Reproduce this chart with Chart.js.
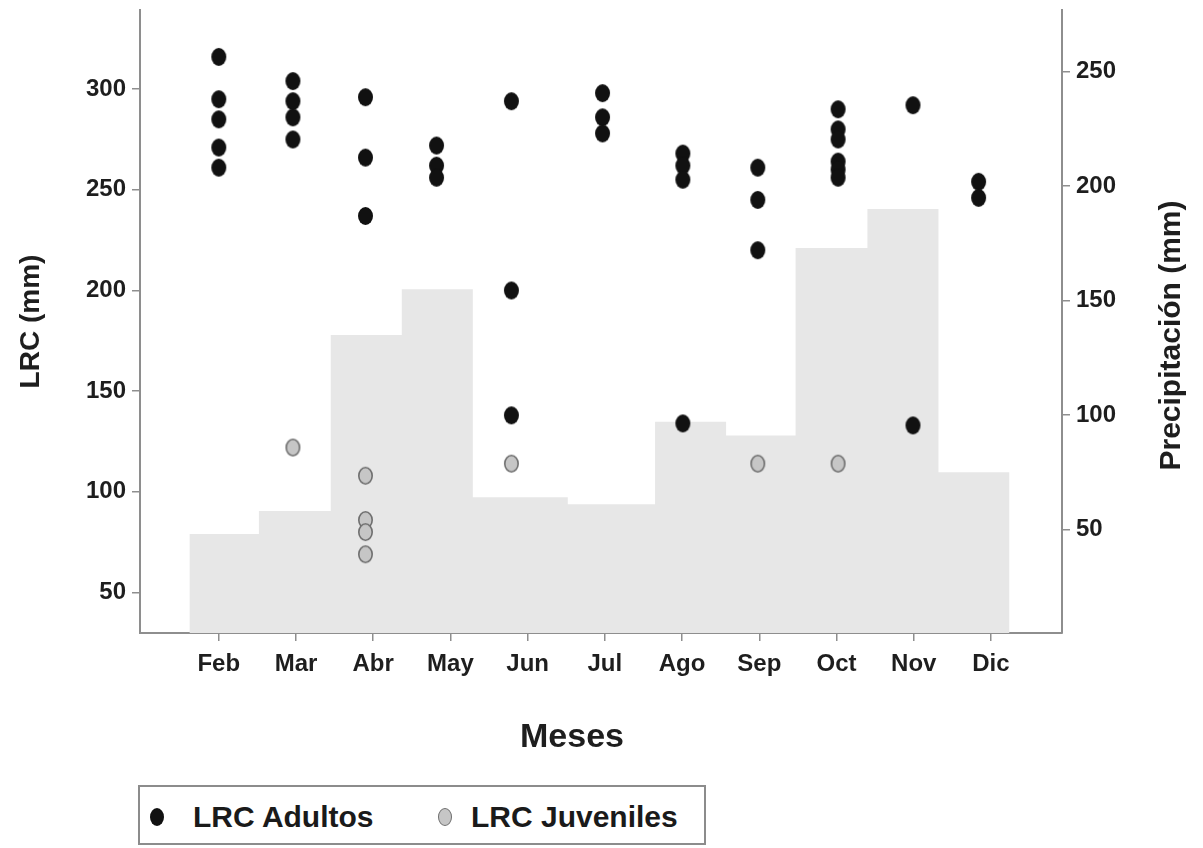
<!DOCTYPE html>
<html>
<head>
<meta charset="utf-8">
<title>LRC y precipitación mensual</title>
<script src="https://cdn.jsdelivr.net/npm/chart.js@4.4.1/dist/chart.umd.min.js"></script>
<style>
  html, body { margin: 0; padding: 0; background: #ffffff; }
  #wrap { position: relative; width: 1203px; height: 848px; overflow: hidden; }
  #grafico { position: absolute; left: 0; top: 0; }
  #leyenda {
    position: absolute; left: 138px; top: 785px; width: 568px; height: 60px;
    box-sizing: border-box; border: 2px solid #8c8c8c; background: #fff;
    font: bold 30px "Liberation Sans", Arial, sans-serif; color: #1a1a1a;
  }
  #leyenda .item { position: absolute; top: 2px; height: 56px; display: flex; align-items: center; white-space: nowrap; }
  #leyenda .marca { display: inline-block; width: 14px; height: 18px; border-radius: 50%; box-sizing: border-box; }
</style>
</head>
<body>
<div id="wrap">
  <canvas id="grafico" width="1203" height="848"></canvas>
  <div id="leyenda"></div>
</div>
<script>
// Month axis: categories and their tick positions
const meses = ['Feb', 'Mar', 'Abr', 'May', 'Jun', 'Jul', 'Ago', 'Sep', 'Oct', 'Nov', 'Dic'];
const ticksMeses = [1, 2, 3, 4, 5, 6, 7, 8, 9, 10, 11];

// Monthly precipitation (mm), right axis
const precipitacion = [48, 58, 135, 155, 64, 61, 97, 91, 173, 190, 75];
// Where each monthly precipitation block starts on the month axis, and where the last one ends
const inicioPrecip = [0.62, 1.52, 2.45, 3.37, 4.29, 5.52, 6.65, 7.57, 8.47, 9.40, 10.32];
const finPrecip = 11.24;

// Sampling date of each month on the month axis
const fechaMuestreo = [1.00, 1.96, 2.90, 3.82, 4.79, 5.97, 7.01, 7.98, 9.02, 9.99, 10.84];

// LRC (mm) per month
const lrcAdultos = [
  [316, 295, 285, 271, 261],
  [304, 294, 286, 275],
  [296, 266, 237],
  [272, 262, 256],
  [294, 200, 138],
  [298, 286, 278],
  [268, 262, 255, 134],
  [261, 245, 220],
  [290, 280, 275, 264, 260, 256],
  [292, 133],
  [254, 246]
];
const lrcJuveniles = [
  [],
  [122],
  [108, 86, 80, 69],
  [],
  [114],
  [],
  [],
  [114],
  [114],
  [],
  []
];

// Axis tick values
const ticksLRC = [50, 100, 150, 200, 250, 300];
const ticksPrecip = [50, 100, 150, 200, 250];

const FUENTE = '"Liberation Sans", Arial, Helvetica, sans-serif';
const GRIS_EJE = '#8e8e8e';
const TEXTO = '#1e1e1e';

// Oval markers
function marcaOval(w, h, relleno, borde, grosor) {
  const c = document.createElement('canvas');
  c.width = w + 2; c.height = h + 2;
  const g = c.getContext('2d');
  g.beginPath();
  g.ellipse((w + 2) / 2, (h + 2) / 2, w / 2 - grosor / 2, h / 2 - grosor / 2, 0, 0, Math.PI * 2);
  g.fillStyle = relleno;
  g.fill();
  if (grosor > 0) { g.lineWidth = grosor; g.strokeStyle = borde; g.stroke(); }
  return c;
}
const ovalNegro = marcaOval(15, 18, '#111111', '#111111', 0);
const ovalGris = marcaOval(15, 18, '#c6c6c6', '#6e6e6e', 1.6);

function puntos(grupos) {
  const out = [];
  grupos.forEach((vals, i) => vals.forEach(v => out.push({ x: fechaMuestreo[i], y: v })));
  return out;
}

const datosPrecip = inicioPrecip.map((x, i) => ({ x: x, y: precipitacion[i] }));
datosPrecip.push({ x: finPrecip, y: precipitacion[precipitacion.length - 1] });

// Axis titles that Chart.js cannot place this way:
// the right one reads bottom to top, and "Meses" sits left of the axis centre
const titulosEjes = {
  id: 'titulosEjes',
  afterDraw(chart) {
    const ctx = chart.ctx;
    const area = chart.chartArea;
    ctx.save();
    ctx.fillStyle = TEXTO;
    ctx.textAlign = 'center';
    ctx.textBaseline = 'middle';
    ctx.font = 'bold 34px ' + FUENTE;
    ctx.fillText('Meses', 572, 738);
    ctx.translate(1172, (area.top + area.bottom) / 2 + 14);
    ctx.rotate(-Math.PI / 2);
    ctx.font = 'bold 30px ' + FUENTE;
    ctx.fillText('Precipitación (mm)', 0, 0);
    ctx.restore();
  }
};

const comunEje = {
  grid: { drawOnChartArea: false, drawTicks: true, tickLength: 8, color: GRIS_EJE, lineWidth: 1.5 },
  border: { display: true, color: GRIS_EJE, width: 2 }
};
const fuenteTicks = { family: FUENTE, size: 24, weight: 'bold' };

const chart = new Chart(document.getElementById('grafico'), {
  type: 'scatter',
  data: {
    datasets: [
      {
        label: 'LRC Adultos',
        data: puntos(lrcAdultos),
        yAxisID: 'y',
        pointStyle: ovalNegro,
        pointRadius: 9,
        order: 1
      },
      {
        label: 'LRC Juveniles',
        data: puntos(lrcJuveniles),
        yAxisID: 'y',
        pointStyle: ovalGris,
        pointRadius: 9,
        order: 1
      },
      {
        label: 'Precipitación',
        data: datosPrecip,
        yAxisID: 'y1',
        showLine: true,
        stepped: true,
        fill: 'start',
        backgroundColor: '#e7e7e7',
        borderWidth: 0,
        borderColor: 'rgba(0,0,0,0)',
        pointRadius: 0,
        order: 5
      }
    ]
  },
  options: {
    responsive: false,
    animation: false,
    devicePixelRatio: 1,
    layout: { padding: { top: 10, left: 0, right: 0, bottom: 78 } },
    plugins: { legend: { display: false }, tooltip: { enabled: false } },
    scales: {
      x: Object.assign({}, comunEje, {
        type: 'linear',
        min: -0.02,
        max: 11.92,
        afterBuildTicks: s => { s.ticks = ticksMeses.map(v => ({ value: v })); },
        afterFit: s => { s.height = 137; s.paddingLeft = 0; s.paddingRight = 0; },
        ticks: {
          autoSkip: false, maxRotation: 0, padding: 9, color: TEXTO,
          font: fuenteTicks,
          callback: (v, i) => meses[i]
        }
      }),
      y: Object.assign({}, comunEje, {
        type: 'linear',
        position: 'left',
        min: 29.9,
        max: 339.3,
        afterBuildTicks: s => { s.ticks = ticksLRC.map(v => ({ value: v })); },
        afterFit: s => { s.width = 140; s.paddingTop = 0; s.paddingBottom = 0; },
        ticks: { padding: 6, color: TEXTO, font: fuenteTicks },
        title: {
          display: true, text: 'LRC (mm)', color: TEXTO,
          font: { family: FUENTE, size: 28, weight: 'bold' },
          padding: { top: 14, bottom: 0 }
        }
      }),
      y1: Object.assign({}, comunEje, {
        type: 'linear',
        position: 'right',
        min: 4.7,
        max: 277.0,
        afterBuildTicks: s => { s.ticks = ticksPrecip.map(v => ({ value: v })); },
        afterFit: s => { s.width = 141; s.paddingTop = 0; s.paddingBottom = 0; },
        ticks: { padding: 6, color: TEXTO, font: fuenteTicks }
      })
    }
  },
  plugins: [titulosEjes]
});

// HTML legend built from the point datasets
(function () {
  const caja = document.getElementById('leyenda');
  const posiciones = [{ marca: 10, texto: 53 }, { marca: 298, texto: 331 }];
  chart.data.datasets.filter(d => d.yAxisID === 'y').forEach((d, i) => {
    const esGris = d.pointStyle === ovalGris;
    const m = document.createElement('span');
    m.className = 'marca';
    m.style.background = esGris ? '#c6c6c6' : '#111111';
    m.style.border = esGris ? '1.5px solid #6e6e6e' : 'none';
    const it = document.createElement('div');
    it.className = 'item';
    it.style.left = posiciones[i].marca + 'px';
    it.appendChild(m);
    caja.appendChild(it);
    const t = document.createElement('div');
    t.className = 'item';
    t.style.left = posiciones[i].texto + 'px';
    t.textContent = d.label;
    caja.appendChild(t);
  });
})();
</script>
</body>
</html>
